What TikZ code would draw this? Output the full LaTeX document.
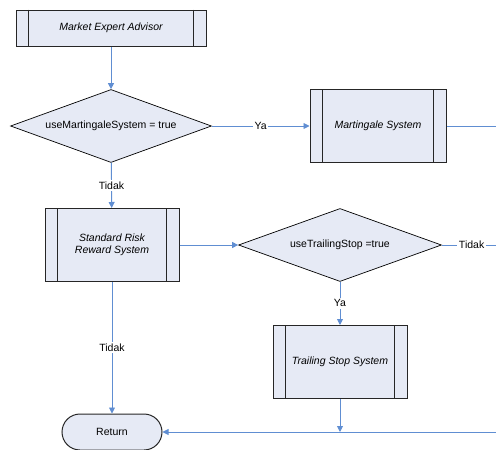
\documentclass[tikz,border=0pt]{standalone}
\usepackage{fontspec}
\setmainfont{Liberation Sans}
\usetikzlibrary{shapes.geometric,arrows.meta,calc,positioning}

\definecolor{flowBlue}{RGB}{96,142,210}
\definecolor{boxFill}{RGB}{230,234,245}

\tikzset{
    processNode/.style={draw=black!85, line width=1pt, fill=boxFill, inner sep=2pt,
        font=\fontsize{10.5}{12.5}\selectfont\itshape, align=center},
    decisionNode/.style={diamond, draw=black, line width=0.7pt, fill=boxFill, inner sep=0pt,
        aspect=2.75, font=\fontsize{10.5}{12.5}\selectfont},
    returnNode/.style={draw=black!85, line width=1pt, fill=boxFill, rounded corners=18pt,
        minimum width=100pt, minimum height=36pt, font=\fontsize{10.5}{12.5}\selectfont},
    flowLine/.style={draw=flowBlue, line width=0.9pt},
    flowLabel/.style={fill=white, inner sep=1.5pt, font=\fontsize{10.5}{12.5}\selectfont}
}

\begin{document}
\begin{tikzpicture}[x=1pt,y=-1pt,>={Triangle[length=6pt,width=6pt]}]
    \useasboundingbox (0,0) rectangle (496,450);

    % process boxes and decisions
    \node [processNode, minimum width=190pt, minimum height=36pt] (expertNode) at (111,28) {Market Expert Advisor};
    \node [decisionNode, minimum width=201pt, minimum height=73pt] (martingaleTest) at (111,126) {useMartingaleSystem = true};
    \node [processNode, minimum width=136pt, minimum height=73pt] (martingaleNode) at (378,126) {Martingale System};
    \node [processNode, minimum width=134pt, minimum height=73pt] (standardNode) at (112,245) {Standard Risk\\Reward System};
    \node [decisionNode, minimum width=203pt, minimum height=73pt] (trailingTest) at (340,245) {useTrailingStop =true};
    \node [processNode, minimum width=134pt, minimum height=73pt] (trailingNode) at (340,362) {Trailing Stop System};
    \node [returnNode] (returnNode) at (112,432) {Return};

    % inner bars of the predefined processes
    \foreach \n in {expertNode,martingaleNode,standardNode,trailingNode} {
        \draw[black!85, line width=1pt] ($(\n.north west)+(13,0)$) -- ($(\n.south west)+(13,0)$);
        \draw[black!85, line width=1pt] ($(\n.north east)+(-13,0)$) -- ($(\n.south east)+(-13,0)$);
    }

    % free ends at the right border
    \coordinate (martingaleOut) at (496,126);
    \coordinate (trailingOut) at (496,245);
    \coordinate (returnIn) at (496,432);
    \coordinate (trailingJoin) at (340,432);

    \draw[flowLine,->] (expertNode) -- (martingaleTest);
    \draw[flowLine,->] (martingaleTest) -- node[flowLabel]{Ya} (martingaleNode);
    \draw[flowLine] (martingaleNode) -- (martingaleOut);
    \draw[flowLine,->] (martingaleTest) -- node[flowLabel]{Tidak} (standardNode);
    \draw[flowLine,->] (standardNode) -- (trailingTest);
    \draw[flowLine] (trailingTest) -- node[flowLabel,pos=0.55]{Tidak} (trailingOut);
    \draw[flowLine,->] (trailingTest) -- node[flowLabel]{Ya} (trailingNode);
    \draw[flowLine,->] (trailingNode) -- (trailingJoin);
    \draw[flowLine,->] (returnIn) -- (returnNode);
    \draw[flowLine,->] (standardNode) -- node[flowLabel]{Tidak} (returnNode);

\end{tikzpicture}
\end{document}
